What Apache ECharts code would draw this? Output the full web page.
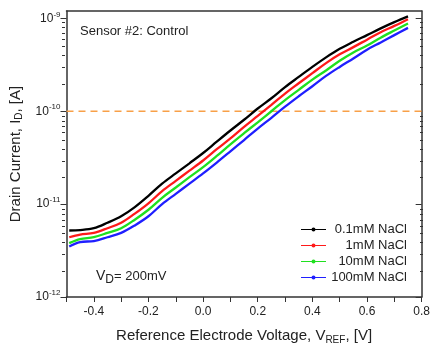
<!DOCTYPE html>
<html>
<head>
<meta charset="utf-8">
<script src="https://cdn.jsdelivr.net/npm/echarts@6/dist/echarts.min.js"></script>
<style>
  html, body { margin: 0; padding: 0; background: #fff; }
  #chart { width: 433px; height: 350px; }
</style>
</head>
<body>
<div id="chart"></div>
<script>
const voltage = [-0.49, -0.45, -0.40, -0.35, -0.30, -0.25, -0.20, -0.15, -0.10, -0.05, 0.00, 0.05, 0.10,
  0.15, 0.20, 0.25, 0.30, 0.35, 0.40, 0.45, 0.50, 0.55, 0.60, 0.65, 0.70, 0.75];

const nacl01 = [5.2e-12, 5.25e-12, 5.5e-12, 6.3e-12, 7.4e-12, 9.3e-12, 1.23e-11, 1.66e-11, 2.14e-11, 2.75e-11,
  3.55e-11, 4.7e-11, 6.2e-11, 8.1e-11, 1.07e-10, 1.38e-10, 1.82e-10, 2.34e-10, 3.0e-10, 3.8e-10,
  4.7e-10, 5.6e-10, 6.6e-10, 7.8e-10, 9.1e-10, 1.05e-9];
const nacl1 = [4.4e-12, 4.7e-12, 4.9e-12, 5.5e-12, 6.3e-12, 7.9e-12, 1.02e-11, 1.38e-11, 1.78e-11, 2.29e-11,
  2.95e-11, 3.9e-11, 5.1e-11, 6.8e-11, 8.9e-11, 1.17e-10, 1.55e-10, 2.0e-10, 2.57e-10, 3.3e-10,
  4.1e-10, 4.9e-10, 5.9e-10, 7.1e-10, 8.3e-10, 9.8e-10];
const nacl10 = [3.8e-12, 4.2e-12, 4.4e-12, 4.9e-12, 5.5e-12, 6.8e-12, 8.7e-12, 1.17e-11, 1.51e-11, 1.95e-11,
  2.5e-11, 3.3e-11, 4.4e-11, 5.8e-11, 7.6e-11, 1.0e-10, 1.32e-10, 1.7e-10, 2.19e-10, 2.75e-10,
  3.5e-10, 4.3e-10, 5.1e-10, 6.2e-10, 7.4e-10, 8.8e-10];
const nacl100 = [3.5e-12, 3.9e-12, 4.0e-12, 4.4e-12, 4.9e-12, 5.9e-12, 7.4e-12, 1.0e-11, 1.29e-11, 1.66e-11,
  2.14e-11, 2.8e-11, 3.7e-11, 4.9e-11, 6.5e-11, 8.5e-11, 1.12e-10, 1.45e-10, 1.86e-10, 2.4e-10,
  3.0e-10, 3.7e-10, 4.6e-10, 5.5e-10, 6.6e-10, 7.9e-10];

const seriesNames = ["0.1mM NaCl", "1mM NaCl", "10mM NaCl", "100mM NaCl"];
const seriesColors = ["#000000", "#ff1a1a", "#1fe01f", "#1f1fff"];
const thresholdCurrent = 1e-10;

const xMin = -0.5;
const xMax = 0.8;
const yMin = 1e-12;
const yMax = 1.2e-9;
const xTicks = [-0.5, -0.4, -0.3, -0.2, -0.1, 0.0, 0.1, 0.2, 0.3, 0.4, 0.5, 0.6, 0.7, 0.8];
const xLabels = [-0.4, -0.2, 0.0, 0.2, 0.4, 0.6, 0.8];
const yMajor = [1e-12, 1e-11, 1e-10, 1e-9];
const yMinor = [];
for (const d of [1e-12, 1e-11, 1e-10]) {
  for (let k = 2; k <= 9; k++) yMinor.push(d * k);
}

const axisColor = "#333";
const font = "Liberation Sans, Arial, sans-serif";
const plotRect = { left: 65, right: 10, top: 11, bottom: 51 };

const chart = echarts.init(document.getElementById("chart"), null, { renderer: "canvas" });

const curves = [nacl01, nacl1, nacl10, nacl100].map((vals, i) => ({
  name: seriesNames[i],
  type: "line",
  symbol: "circle",
  symbolSize: 3,
  showSymbol: false,
  smooth: 0.35,
  animation: false,
  color: seriesColors[i],
  lineStyle: { width: 2.3, color: seriesColors[i] },
  data: voltage.map((v, j) => [v, vals[j]]),
  z: 3 + (3 - i),
}));

// orange dashed reference level across the whole x range
const threshold = {
  name: "threshold",
  type: "line",
  symbol: "none",
  silent: true,
  animation: false,
  z: 2,
  lineStyle: { color: "#f8a048", type: [7, 5], width: 1.5 },
  data: [[xMin, thresholdCurrent], [xMax, thresholdCurrent]],
};

// second grid on the same rect only carries the short minor ticks
const tickHolders = [2, 3].map((idx) => ({
  type: "line",
  xAxisIndex: 2,
  yAxisIndex: idx,
  silent: true,
  data: [],
}));

const logLabel = (v) => "{b|10}{e|" + Math.round(Math.log10(v)) + "}";

const logAxis = {
  type: "log",
  logBase: 10,
  min: yMin,
  max: yMax,
  splitLine: { show: false },
};

chart.setOption({
  animation: false,
  textStyle: { fontFamily: font },
  grid: [{ ...plotRect }, { ...plotRect }],
  legend: {
    orient: "vertical",
    right: 21,
    top: 218,
    itemWidth: 25,
    itemHeight: 5,
    itemGap: 3,
    align: "left",
    lineStyle: { width: 1 },
    formatter: (name) => "{r|" + name + "}",
    textStyle: {
      fontSize: 13, color: "#222", fontFamily: font,
      rich: { r: { width: 76, align: "right", fontSize: 13, color: "#222", fontFamily: font } },
    },
    data: seriesNames,
  },
  xAxis: [
    {
      type: "value",
      min: xMin,
      max: xMax,
      name: "Reference Electrode Voltage, V{s|REF}, [V]",
      nameLocation: "middle",
      nameGap: 30,
      nameTextStyle: {
        fontSize: 15, color: "#222", fontFamily: font,
        rich: { s: { fontSize: 10, padding: [8, 0, 0, 0], color: "#222" } },
      },
      axisLine: { onZero: false, lineStyle: { color: axisColor, width: 1.5 } },
      axisTick: { customValues: xTicks, length: 5, lineStyle: { color: axisColor } },
      axisLabel: {
        customValues: xLabels,
        fontSize: 12,
        color: "#222",
        margin: 9,
        formatter: (v) => v.toFixed(1),
      },
      splitLine: { show: false },
    },
    {
      type: "value",
      min: xMin,
      max: xMax,
      position: "top",
      axisLine: { show: true, onZero: false, lineStyle: { color: axisColor, width: 1.5 } },
      axisTick: { show: false },
      axisLabel: { show: false },
      splitLine: { show: false },
    },
    {
      type: "value",
      gridIndex: 1,
      min: xMin,
      max: xMax,
      show: false,
    },
  ],
  yAxis: [
    {
      ...logAxis,
      position: "left",
      name: "Drain Current, I{s|D}, [A]",
      nameLocation: "middle",
      nameRotate: 90,
      nameGap: 42,
      nameTextStyle: {
        fontSize: 15, color: "#222", fontFamily: font,
        rich: { s: { fontSize: 10, padding: [8, 0, 0, 0], color: "#222" } },
      },
      axisLine: { show: true, onZero: false, lineStyle: { color: axisColor, width: 1.5 } },
      axisTick: { customValues: yMajor, length: 6, lineStyle: { color: axisColor } },
      axisLabel: {
        customValues: yMajor,
        margin: 6,
        color: "#222",
        formatter: logLabel,
        rich: {
          b: { fontSize: 12, color: "#222", fontFamily: font },
          e: { fontSize: 8, color: "#222", padding: [0, 0, 8, 0], fontFamily: font },
        },
      },
    },
    {
      ...logAxis,
      position: "right",
      axisLine: { show: true, onZero: false, lineStyle: { color: axisColor, width: 1.5 } },
      axisTick: { inside: true, customValues: yMajor, length: 6, lineStyle: { color: axisColor } },
      axisLabel: { show: false },
    },
    {
      ...logAxis,
      gridIndex: 1,
      position: "left",
      axisLine: { show: false, onZero: false },
      axisTick: { customValues: yMinor, length: 3, lineStyle: { color: axisColor } },
      axisLabel: { show: false },
    },
    {
      ...logAxis,
      gridIndex: 1,
      position: "right",
      axisLine: { show: false, onZero: false },
      axisTick: { inside: true, customValues: yMinor, length: 3, lineStyle: { color: axisColor } },
      axisLabel: { show: false },
    },
  ],
  graphic: [
    {
      type: "text",
      left: 80,
      top: 25,
      style: { text: "Sensor #2: Control", fontSize: 13, fill: "#222", fontFamily: font },
    },
    {
      type: "text",
      left: 96,
      top: 269,
      style: {
        text: "{v|V}{d|D}{t|= 200mV}",
        fill: "#222",
        fontFamily: font,
        rich: {
          v: { fontSize: 14, fill: "#222" },
          d: { fontSize: 12, padding: [8, 0, 0, 0], fill: "#222" },
          t: { fontSize: 13, fill: "#222" },
        },
      },
    },
  ],
  series: [threshold, ...curves, ...tickHolders],
});
</script>
</body>
</html>
